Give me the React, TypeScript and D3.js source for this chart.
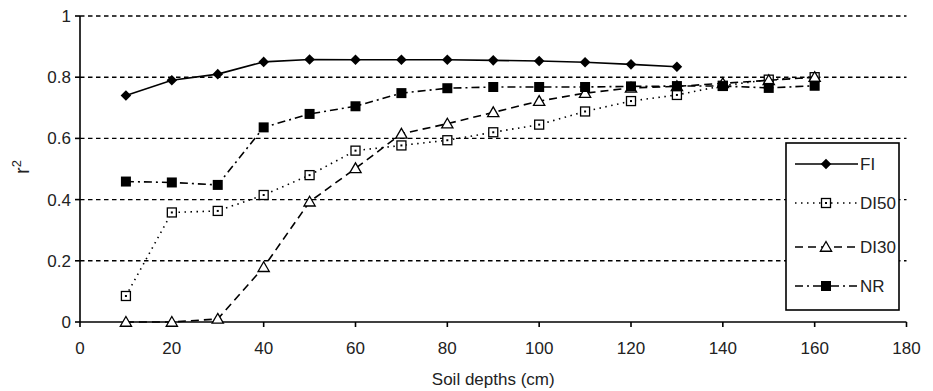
import React from "react";
import * as d3 from "d3";

const depths = [10, 20, 30, 40, 50, 60, 70, 80, 90, 100, 110, 120, 130, 140, 150, 160];
const fi = [0.74, 0.79, 0.81, 0.85, 0.858, 0.857, 0.857, 0.857, 0.855, 0.853, 0.849, 0.842, 0.834];
const di50 = [0.085, 0.358, 0.363, 0.415, 0.48, 0.56, 0.577, 0.594, 0.62, 0.645, 0.688, 0.722, 0.742, 0.772, 0.792, 0.8];
const di30 = [0, 0, 0.01, 0.179, 0.393, 0.502, 0.615, 0.648, 0.685, 0.722, 0.748, 0.765, 0.77, 0.78, 0.79, 0.8];
const nr = [0.459, 0.456, 0.448, 0.636, 0.68, 0.705, 0.748, 0.764, 0.768, 0.768, 0.768, 0.77, 0.771, 0.771, 0.765, 0.772];
const xTicks = [0, 20, 40, 60, 80, 100, 120, 140, 160, 180];
const yTicks = [0, 0.2, 0.4, 0.6, 0.8, 1];

type Marker = "diamond" | "dotSquare" | "triangle" | "square";
const series: { name: string; values: number[]; dash: string; marker: Marker }[] = [
  { name: "FI", values: fi, dash: "none", marker: "diamond" },
  { name: "DI50", values: di50, dash: "1.5,4.5", marker: "dotSquare" },
  { name: "DI30", values: di30, dash: "8,5", marker: "triangle" },
  { name: "NR", values: nr, dash: "8,4,2,4", marker: "square" },
];

const W = 933, H = 391;
const x = d3.scaleLinear().domain([0, 180]).range([80, 906.5]);
const y = d3.scaleLinear().domain([0, 1]).range([322, 16]);
const font = "Liberation Sans, Arial, sans-serif";

function MarkerShape({ type, cx, cy }: { type: Marker; cx: number; cy: number }) {
  if (type === "diamond") {
    // rotated square, a bit wider than d3's symbolDiamond
    const p = d3.symbol().type(d3.symbolSquare).size(56)()!;
    return <path d={p} transform={`translate(${cx},${cy}) rotate(45)`} fill="#000" />;
  }
  if (type === "square") {
    return <rect x={cx - 5} y={cy - 5} width={10} height={10} fill="#000" />;
  }
  if (type === "dotSquare") {
    return (
      <g>
        <rect x={cx - 4.5} y={cy - 4.5} width={9} height={9} fill="#fff" stroke="#000" strokeWidth={1.3} />
        <rect x={cx - 1} y={cy - 1} width={2} height={2} fill="#000" />
      </g>
    );
  }
  const t = d3.symbol().type(d3.symbolTriangle).size(55)()!;
  return <path d={t} transform={`translate(${cx},${cy + 1})`} fill="#fff" stroke="#000" strokeWidth={1.3} />;
}

export default function App() {
  const line = d3.line<number>()
    .x((_, i) => x(depths[i]))
    .y(d => y(d));

  const legendX = 786, legendY = 143, legendW = 113, legendH = 167;
  const legendRows = [164, 203, 247, 286];

  return (
    <svg width={W} height={H} style={{ position: "absolute", left: 0, top: 0, background: "#fff" }} fontFamily={font}>
      {/* grid */}
      {yTicks.filter(t => t > 0).map(t => (
        <line key={t} x1={x(0)} x2={x(180)} y1={y(t)} y2={y(t)} stroke="#000" strokeWidth={1.4} strokeDasharray="4.5,3.5" />
      ))}

      {/* axes */}
      <line x1={x(0)} x2={x(0)} y1={y(0)} y2={y(1)} stroke="#000" strokeWidth={1.6} />
      <line x1={x(0)} x2={x(180)} y1={y(0)} y2={y(0)} stroke="#000" strokeWidth={1.6} />
      {yTicks.map(t => (
        <g key={t}>
          <line x1={x(0) - 5} x2={x(0)} y1={y(t)} y2={y(t)} stroke="#000" strokeWidth={1.6} />
          <text x={x(0) - 9} y={y(t) + 6} textAnchor="end" fontSize={17} fill="#222">{t}</text>
        </g>
      ))}
      {xTicks.map(t => (
        <g key={t}>
          <line x1={x(t)} x2={x(t)} y1={y(0)} y2={y(0) + 5} stroke="#000" strokeWidth={1.6} />
          <text x={x(t)} y={y(0) + 32} textAnchor="middle" fontSize={17} fill="#222">{t}</text>
        </g>
      ))}
      <text x={(x(0) + x(180)) / 2} y={385} textAnchor="middle" fontSize={17} fill="#222">Soil depths  (cm)</text>
      <text transform="translate(29,167) rotate(-90)" textAnchor="middle" fontSize={20} fill="#222">
        r<tspan dy={-8} fontSize={13}>2</tspan>
      </text>

      {/* series */}
      {series.map(s => (
        <g key={s.name}>
          <path d={line(s.values) ?? ""} fill="none" stroke="#000" strokeWidth={1.6} strokeDasharray={s.dash} />
          {s.values.map((v, i) => (
            <MarkerShape key={i} type={s.marker} cx={x(depths[i])} cy={y(v)} />
          ))}
        </g>
      ))}

      {/* legend */}
      <rect x={legendX} y={legendY} width={legendW} height={legendH} fill="#fff" stroke="#000" strokeWidth={1.6} />
      {series.map((s, i) => (
        <g key={s.name}>
          <line x1={795} x2={858} y1={legendRows[i]} y2={legendRows[i]} stroke="#000" strokeWidth={1.6} strokeDasharray={s.dash} />
          <MarkerShape type={s.marker} cx={826} cy={legendRows[i]} />
          <text x={860} y={legendRows[i] + 6} fontSize={17} fill="#222">{s.name}</text>
        </g>
      ))}
    </svg>
  );
}
